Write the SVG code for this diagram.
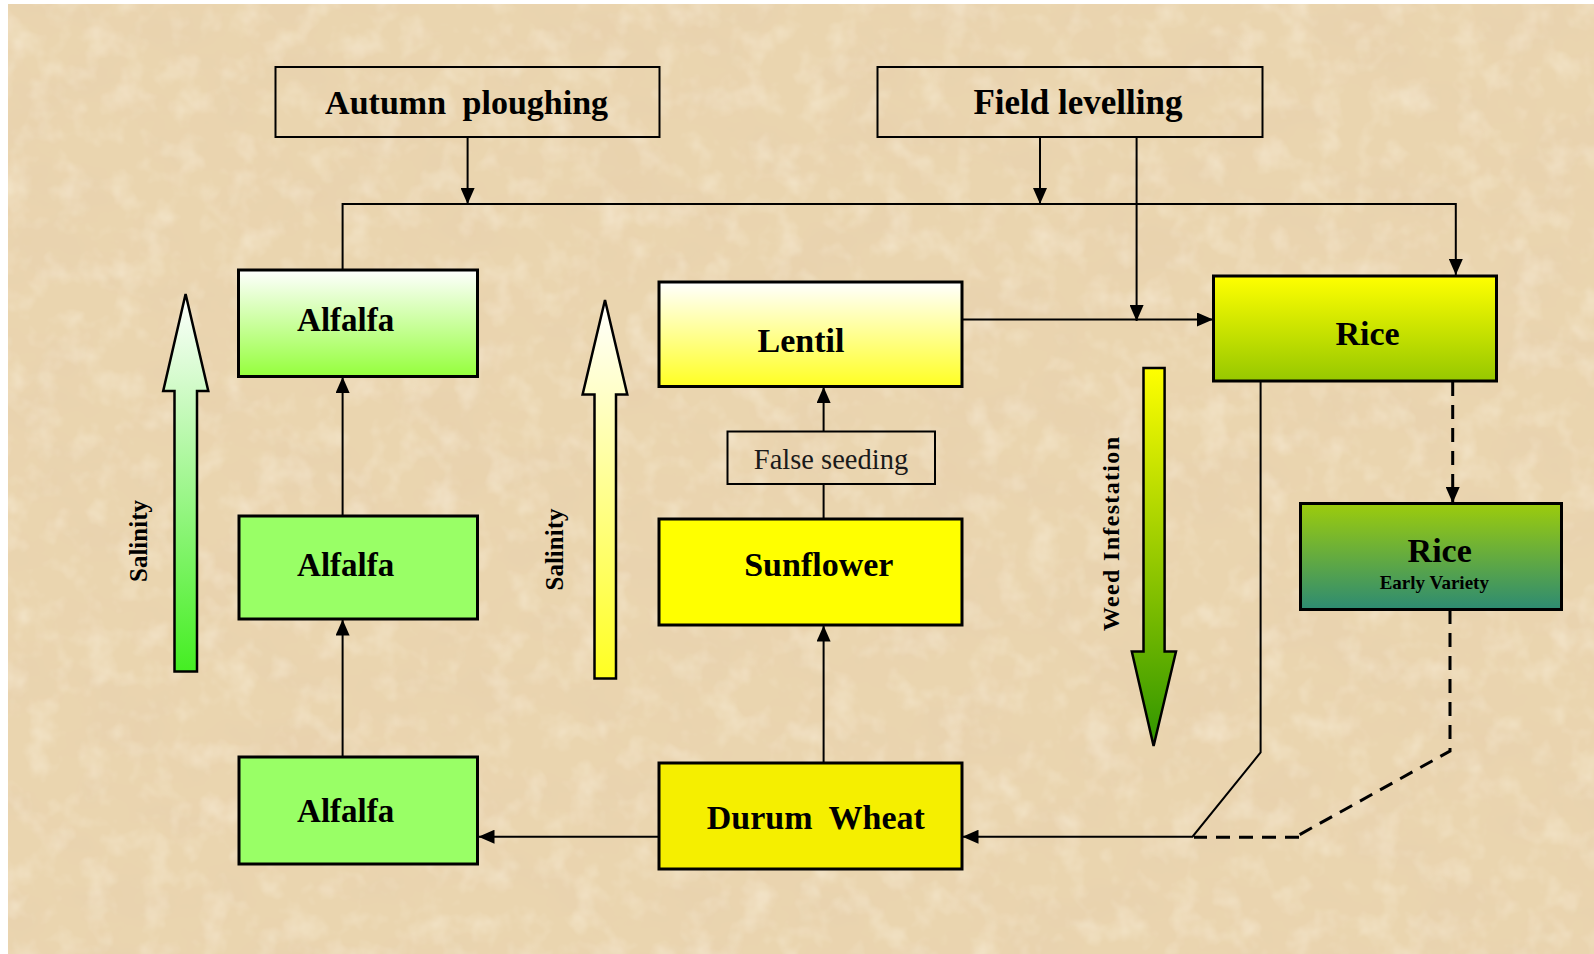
<svg xmlns="http://www.w3.org/2000/svg" width="1594" height="954" viewBox="0 0 1594 954">
<style>
.box{stroke:#000;stroke-width:3}
.hdr{fill:none;stroke:#000;stroke-width:2}
.lbl{font-family:"Liberation Serif","Times New Roman",serif;font-weight:bold;fill:#000;text-anchor:middle}
.reg{font-family:"Liberation Serif","Times New Roman",serif;font-weight:normal;fill:#1a1a1a;text-anchor:middle}
.conn{fill:none;stroke:#000;stroke-width:2}
.dash{fill:none;stroke:#000;stroke-width:3;stroke-dasharray:14 9}
.barrow{stroke:#000;stroke-width:2.5}
</style>
<defs>
<marker id="ah" viewBox="0 0 16 14" refX="16" refY="7" markerWidth="16" markerHeight="14" markerUnits="userSpaceOnUse" orient="auto">
<path d="M0,0 L16,7 L0,14 z" fill="#000"/>
</marker>
<linearGradient id="gAlf" x1="0" y1="0" x2="0" y2="1"><stop offset="0" stop-color="#ffffff"/><stop offset="1" stop-color="#95ff3c"/></linearGradient>
<linearGradient id="gLen" x1="0" y1="0" x2="0" y2="1"><stop offset="0" stop-color="#ffffff"/><stop offset="1" stop-color="#ffff22"/></linearGradient>
<linearGradient id="gRice" x1="0" y1="0" x2="0" y2="1"><stop offset="0" stop-color="#ffff00"/><stop offset="1" stop-color="#96c800"/></linearGradient>
<linearGradient id="gRiceE" x1="0" y1="0" x2="0" y2="1"><stop offset="0" stop-color="#9ccc0c"/><stop offset="1" stop-color="#2d8b72"/></linearGradient>
<linearGradient id="gSal1" x1="0" y1="0" x2="0" y2="1"><stop offset="0" stop-color="#ffffff"/><stop offset="1" stop-color="#44ee22"/></linearGradient>
<linearGradient id="gSal2" x1="0" y1="0" x2="0" y2="1"><stop offset="0" stop-color="#ffffff"/><stop offset="1" stop-color="#ffff22"/></linearGradient>
<linearGradient id="gWeed" x1="0" y1="0" x2="0" y2="1"><stop offset="0" stop-color="#ffff00"/><stop offset="1" stop-color="#2f9500"/></linearGradient>
<filter id="tex" x="0" y="0" width="100%" height="100%">
<feTurbulence type="fractalNoise" baseFrequency="0.012 0.018" numOctaves="4" seed="7" result="n"/>
<feColorMatrix in="n" type="matrix" values="0 0 0 0 0.80  0 0 0 0 0.62  0 0 0 0 0.42  1.0 0 0 0 -0.40"/>
</filter>
<filter id="tex2" x="0" y="0" width="100%" height="100%">
<feTurbulence type="fractalNoise" baseFrequency="0.035" numOctaves="3" seed="3" result="n"/>
<feColorMatrix in="n" type="matrix" values="0 0 0 0 1  0 0 0 0 0.96  0 0 0 0 0.86  0.8 0 0 0 -0.38"/>
</filter>
</defs>

<rect x="0" y="0" width="1594" height="954" fill="#ffffff"/>
<g id="background">
<rect x="8" y="4" width="1586" height="950" fill="#ead5af"/>
<rect x="8" y="4" width="1586" height="950" filter="url(#tex)"/>
<rect x="8" y="4" width="1586" height="950" filter="url(#tex2)"/>
</g>

<g id="connectors">
<path class="conn" d="M467.6,137 V204" marker-end="url(#ah)"/>
<path class="conn" d="M1040,137 V204" marker-end="url(#ah)"/>
<path class="conn" d="M1136.6,137 V321" marker-end="url(#ah)"/>
<path class="conn" stroke-width="2.5" d="M342.6,269.5 V204 H1455.8 V275" marker-end="url(#ah)"/>
<path class="conn" d="M962,319.5 H1213" marker-end="url(#ah)"/>
<path class="conn" d="M342.6,515.5 V377" marker-end="url(#ah)"/>
<path class="conn" d="M342.6,756.5 V619.5" marker-end="url(#ah)"/>
<path class="conn" d="M659,836.7 H478.5" marker-end="url(#ah)"/>
<path class="conn" d="M823.6,518.5 V484"/>
<path class="conn" d="M823.6,431 V387" marker-end="url(#ah)"/>
<path class="conn" d="M823.6,762.5 V625.5" marker-end="url(#ah)"/>
<path class="conn" stroke-width="3" d="M1260.6,381 V752.5 L1192.5,836.7 H962.5" marker-end="url(#ah)"/>
<path class="dash" d="M1452.7,382 V503" marker-end="url(#ah)"/>
<path class="dash" d="M1450,610 V751 L1299,835"/>
<path class="dash" stroke-width="4.5" d="M1299,837.3 H1194"/>
</g>

<g id="salinity-arrow-1">
<polygon class="barrow" fill="url(#gSal1)" points="185.6,294 208.3,391 197,391 197,671.5 174.5,671.5 174.5,391 163.2,391"/>
<text class="lbl" font-size="25" transform="translate(147,541) rotate(-90)">Salinity</text>
</g>
<g id="salinity-arrow-2">
<polygon class="barrow" fill="url(#gSal2)" points="605,300 627.3,394.4 616,394.4 616,678.5 594.5,678.5 594.5,394.4 582.6,394.4"/>
<text class="lbl" font-size="25" transform="translate(563,549.5) rotate(-90)">Salinity</text>
</g>
<g id="weed-arrow">
<polygon class="barrow" fill="url(#gWeed)" points="1143.5,368 1164.6,368 1164.6,651.5 1176,651.5 1153.6,746 1131.8,651.5 1143.5,651.5"/>
<text class="lbl" font-size="24" textLength="194" lengthAdjust="spacing" transform="translate(1118.5,534) rotate(-90)">Weed Infestation</text>
</g>

<g id="autumn-ploughing">
<rect class="hdr" x="275.5" y="67" width="384" height="70"/>
<text class="lbl" font-size="34" word-spacing="8" x="466.6" y="114">Autumn ploughing</text>
</g>
<g id="field-levelling">
<rect class="hdr" x="877.5" y="67" width="385" height="70"/>
<text class="lbl" font-size="35" x="1078" y="114">Field levelling</text>
</g>

<g id="alfalfa-1">
<rect class="box" x="238.5" y="270" width="239" height="106.5" fill="url(#gAlf)"/>
<text class="lbl" font-size="33" x="345.7" y="331">Alfalfa</text>
</g>
<g id="alfalfa-2">
<rect class="box" x="239" y="516" width="238.5" height="103" fill="#99ff66"/>
<text class="lbl" font-size="33" x="345.7" y="576">Alfalfa</text>
</g>
<g id="alfalfa-3">
<rect class="box" x="239" y="757" width="238.5" height="107" fill="#99ff66"/>
<text class="lbl" font-size="33" x="345.7" y="821.5">Alfalfa</text>
</g>

<g id="lentil">
<rect class="box" x="659" y="282" width="303" height="104.5" fill="url(#gLen)"/>
<text class="lbl" font-size="34" x="801" y="351.7">Lentil</text>
</g>
<g id="false-seeding">
<rect class="hdr" x="727.5" y="431.5" width="207.5" height="52.5"/>
<text class="reg" font-size="28.5" x="831" y="469">False seeding</text>
</g>
<g id="sunflower">
<rect class="box" x="659" y="519" width="303" height="106" fill="#ffff00"/>
<text class="lbl" font-size="34" x="818.8" y="576.4">Sunflower</text>
</g>
<g id="durum-wheat">
<rect class="box" x="659" y="763" width="303" height="106" fill="#f5ef00"/>
<text class="lbl" font-size="34" word-spacing="8" x="815.8" y="828.5">Durum Wheat</text>
</g>

<g id="rice">
<rect class="box" x="1213.5" y="276" width="283" height="105" fill="url(#gRice)"/>
<text class="lbl" font-size="34" x="1367.5" y="344.5">Rice</text>
</g>
<g id="rice-early">
<rect class="box" x="1300.5" y="503.5" width="261" height="106" fill="url(#gRiceE)"/>
<text class="lbl" font-size="34" x="1439.7" y="561.5">Rice</text>
<text class="lbl" font-size="19" x="1434.3" y="588.5">Early Variety</text>
</g>
</svg>
